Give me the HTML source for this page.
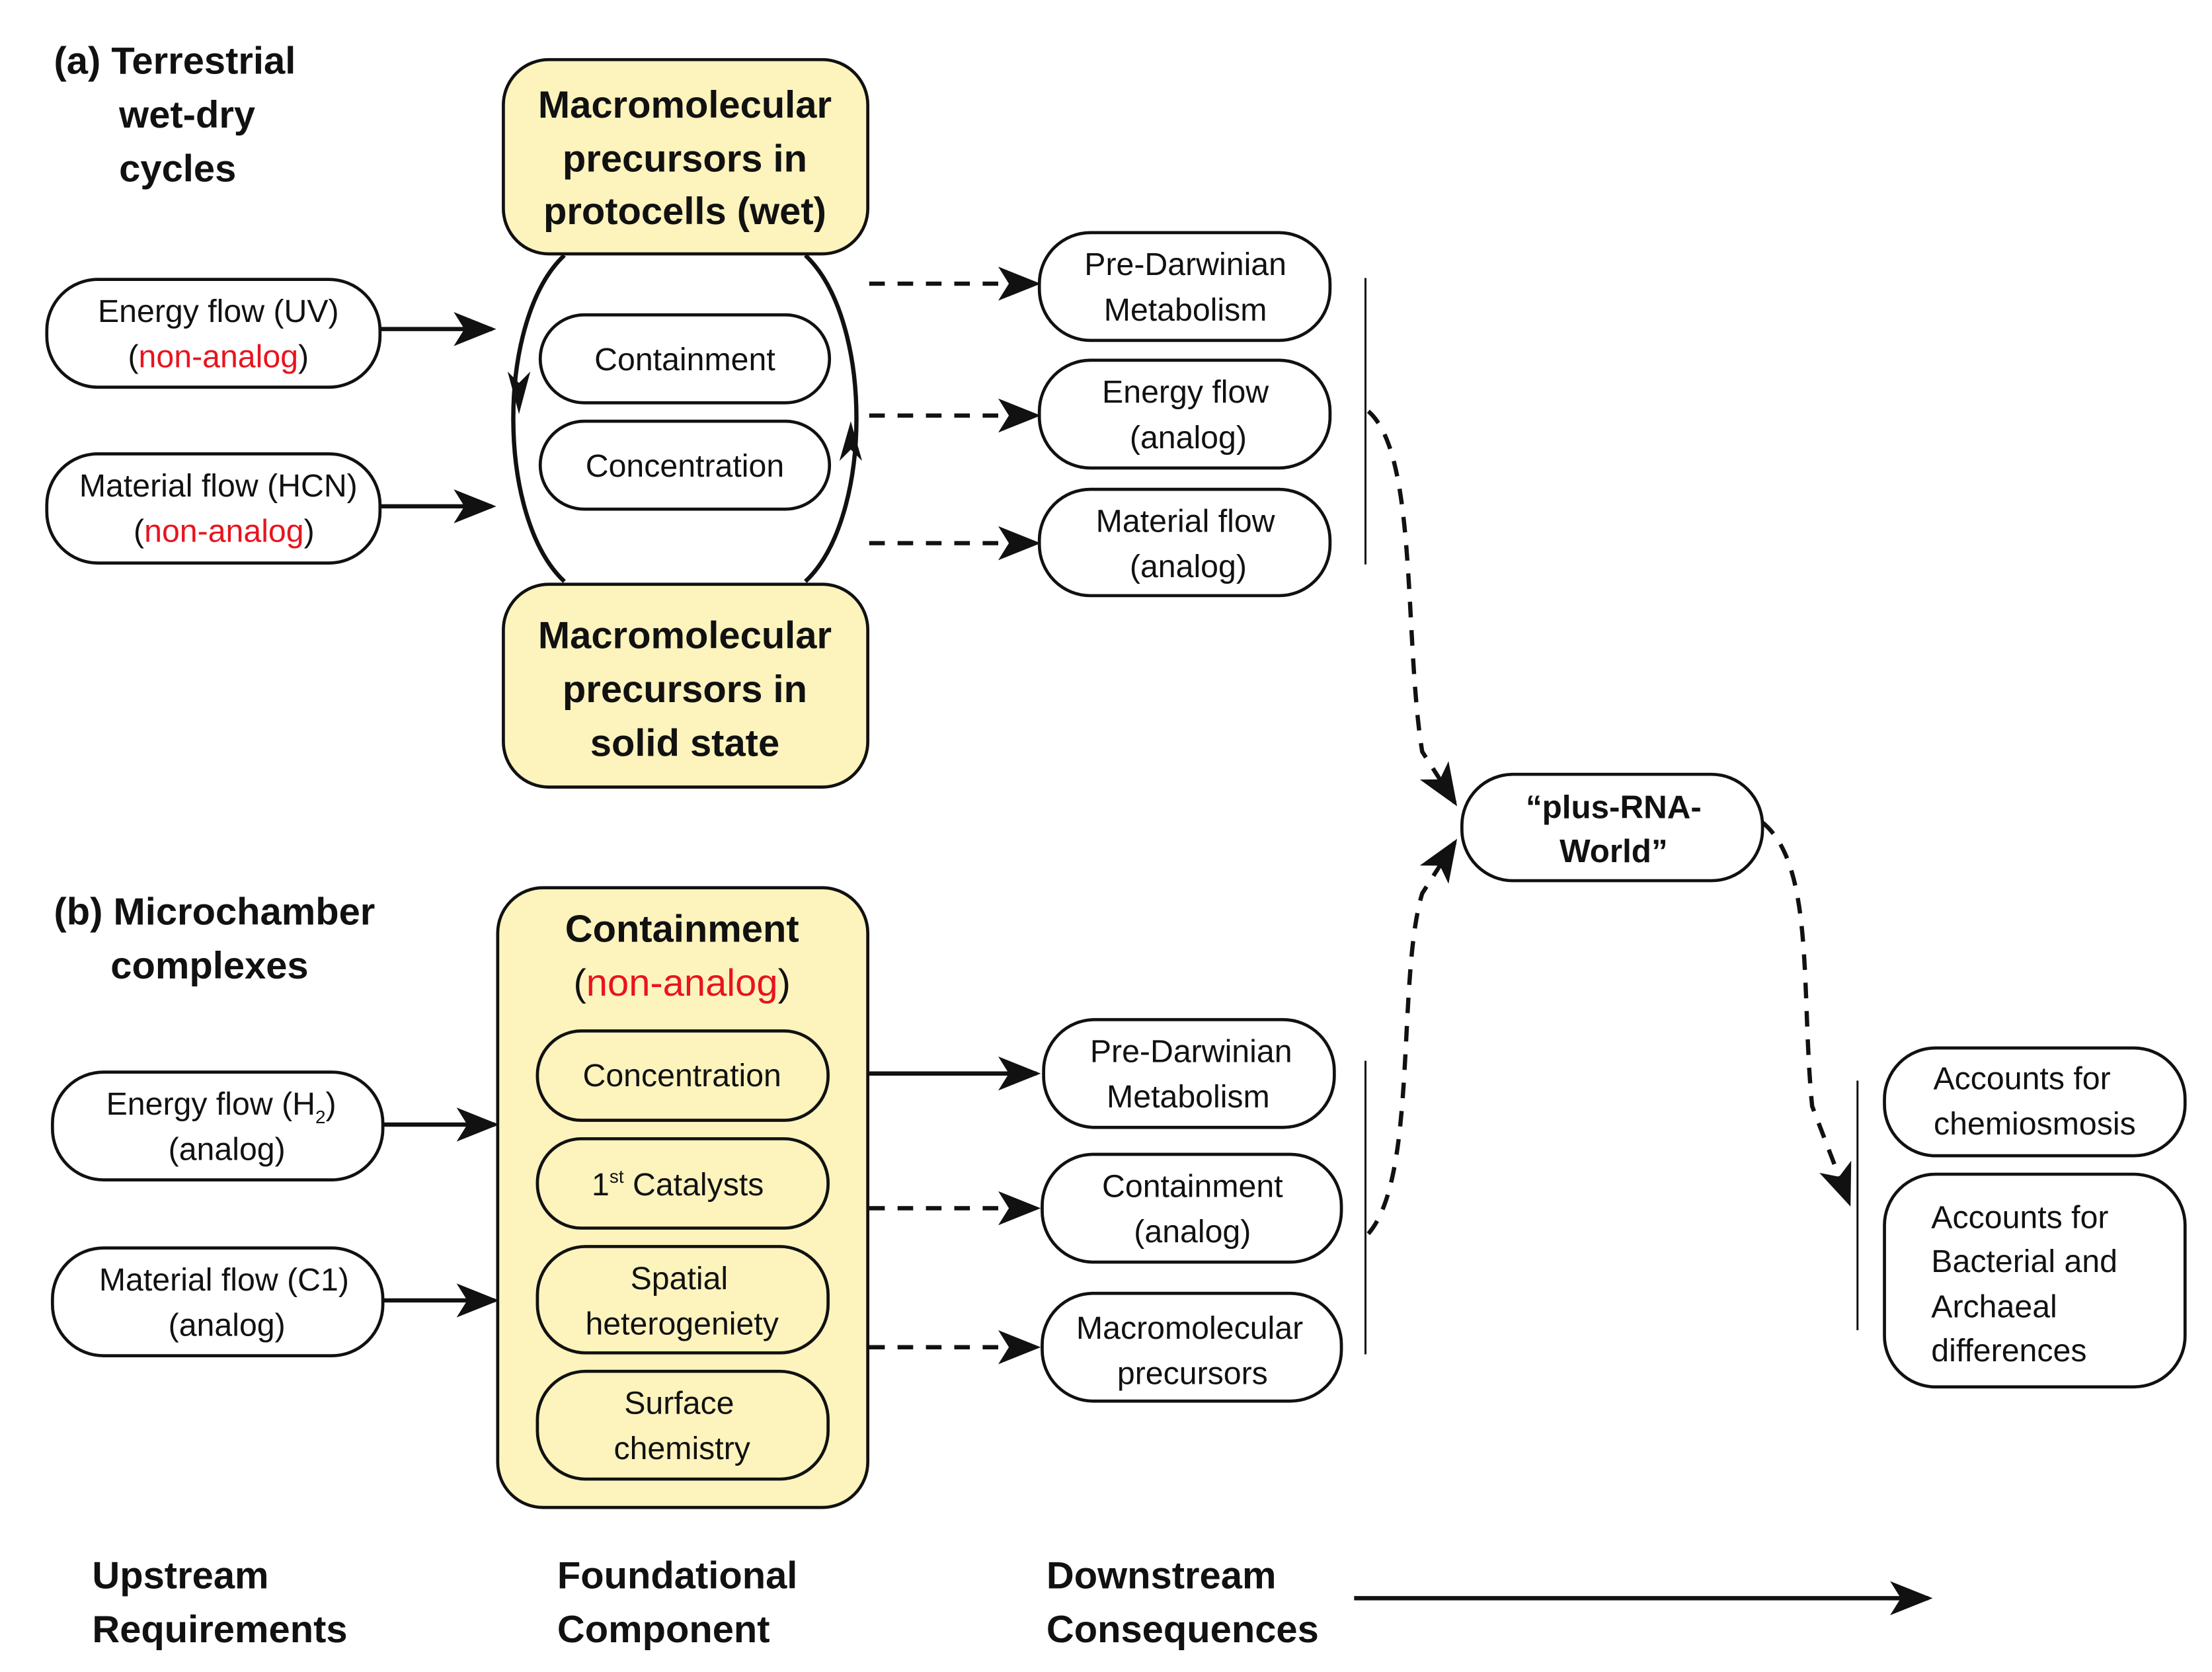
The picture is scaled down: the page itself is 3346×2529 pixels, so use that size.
<!DOCTYPE html>
<html><head><meta charset="utf-8"><style>
html,body{margin:0;padding:0;background:#fff;}
svg{display:block;}
text{font-family:"Liberation Sans",sans-serif;fill:#111;}
.r{font-size:22.5px;text-anchor:middle;}
.b{font-size:27px;font-weight:bold;}
.bc{font-size:27px;font-weight:bold;text-anchor:middle;}
.red{fill:#e8141e;}
.box{fill:#fff;stroke:#111;stroke-width:2.2;}
.yb{fill:#fcf3bd;stroke:#111;stroke-width:2.2;}
.ln{stroke:#111;stroke-width:3;fill:none;}
.vl{stroke:#111;stroke-width:1.4;fill:none;}
.dl{stroke:#111;stroke-width:3;fill:none;stroke-dasharray:11 9;}
</style></head><body>
<svg width="3346" height="2529" viewBox="0 0 1560 1179" xmlns="http://www.w3.org/2000/svg">
<defs>
<marker id="ab" viewBox="0 0 20 16" refX="18" refY="8" markerWidth="32" markerHeight="24" markerUnits="userSpaceOnUse" orient="auto">
<path d="M0 0 L20 8 L0 16 L5 8 Z" fill="#111"/></marker>
</defs>

<text class="b" x="38" y="52">(a) Terrestrial</text>
<text class="b" x="84" y="90">wet-dry</text>
<text class="b" x="84" y="128">cycles</text>

<rect class="yb" x="355" y="42" width="257" height="137" rx="32"/>
<text class="bc" x="483" y="83">Macromolecular</text>
<text class="bc" x="483" y="121">precursors in</text>
<text class="bc" x="483" y="158">protocells (wet)</text>

<path class="ln" stroke-width="2.4" d="M398 180 C350 225,350 365,398 410"/>
<path class="ln" stroke-width="2.4" d="M568 180 C616 225,616 365,568 410"/>
<path d="M358 262 L366 292 L374 262 L366 270 Z" fill="#111"/>
<path d="M592 325 L600 297 L608 325 L600 317 Z" fill="#111"/>

<rect class="box" x="381" y="222" width="204" height="62" rx="31"/>
<text class="r" x="483" y="261">Containment</text>
<rect class="box" x="381" y="297" width="204" height="62" rx="31"/>
<text class="r" x="483" y="336">Concentration</text>

<rect class="yb" x="355" y="412" width="257" height="143" rx="32"/>
<text class="bc" x="483" y="457">Macromolecular</text>
<text class="bc" x="483" y="495">precursors in</text>
<text class="bc" x="483" y="533">solid state</text>

<rect class="box" x="33" y="197" width="235" height="76" rx="36"/>
<text class="r" x="154" y="227">Energy flow (UV)</text>
<text class="r" x="154" y="259">(<tspan class="red">non-analog</tspan>)</text>
<line class="ln" x1="268" y1="232" x2="347" y2="232" marker-end="url(#ab)"/>
<rect class="box" x="33" y="320" width="235" height="77" rx="36"/>
<text class="r" x="154" y="350">Material flow (HCN)</text>
<text class="r" x="158" y="382">(<tspan class="red">non-analog</tspan>)</text>
<line class="ln" x1="268" y1="357" x2="347" y2="357" marker-end="url(#ab)"/>

<line class="dl" x1="613" y1="200" x2="731" y2="200" marker-end="url(#ab)"/>
<line class="dl" x1="613" y1="293" x2="731" y2="293" marker-end="url(#ab)"/>
<line class="dl" x1="613" y1="383" x2="731" y2="383" marker-end="url(#ab)"/>

<rect class="box" x="733" y="164" width="205" height="76" rx="36"/>
<text class="r" x="836" y="194">Pre-Darwinian</text>
<text class="r" x="836" y="226">Metabolism</text>
<rect class="box" x="733" y="254" width="205" height="76" rx="36"/>
<text class="r" x="836" y="284">Energy flow</text>
<text class="r" x="838" y="316">(analog)</text>
<rect class="box" x="733" y="345" width="205" height="75" rx="36"/>
<text class="r" x="836" y="375">Material flow</text>
<text class="r" x="838" y="407">(analog)</text>
<line class="vl" x1="963" y1="196" x2="963" y2="398"/>

<path class="dl" d="M965 290 C1000 320,990 450,1003 530 L1026 566" marker-end="url(#ab)"/>
<path class="dl" d="M965 870 C1000 830,985 690,1003 630 L1026 594" marker-end="url(#ab)"/>
<path class="dl" d="M1243 580 C1280 610,1270 700,1278 780 L1304 848" marker-end="url(#ab)"/>

<rect class="box" x="1031" y="546" width="212" height="75" rx="36"/>
<text class="bc" style="font-size:23px" x="1138" y="577">“plus-RNA-</text>
<text class="bc" style="font-size:23px" x="1138" y="608">World”</text>

<text class="b" x="38" y="652">(b) Microchamber</text>
<text class="b" x="78" y="690">complexes</text>

<rect class="yb" x="351" y="626" width="261" height="437" rx="32"/>
<text class="bc" x="481" y="664">Containment</text>
<text class="r" style="font-size:27px" x="481" y="702">(<tspan class="red">non-analog</tspan>)</text>
<rect class="yb" x="379" y="727" width="205" height="63" rx="31"/>
<text class="r" x="481" y="766">Concentration</text>
<rect class="yb" x="379" y="803" width="205" height="63" rx="31"/>
<text class="r" x="478" y="843">1<tspan style="font-size:13px" dy="-9">st</tspan><tspan dy="9"> Catalysts</tspan></text>
<rect class="yb" x="379" y="879" width="205" height="75" rx="34"/>
<text class="r" x="479" y="909">Spatial</text>
<text class="r" x="481" y="941">heterogeniety</text>
<rect class="yb" x="379" y="967" width="205" height="76" rx="34"/>
<text class="r" x="479" y="997">Surface</text>
<text class="r" x="481" y="1029">chemistry</text>

<rect class="box" x="37" y="756" width="233" height="76" rx="36"/>
<text class="r" x="156" y="786">Energy flow (H<tspan style="font-size:13px" dy="6">2</tspan><tspan dy="-6">)</tspan></text>
<text class="r" x="160" y="818">(analog)</text>
<line class="ln" x1="270" y1="793" x2="349" y2="793" marker-end="url(#ab)"/>
<rect class="box" x="37" y="880" width="233" height="76" rx="36"/>
<text class="r" x="158" y="910">Material flow (C1)</text>
<text class="r" x="160" y="942">(analog)</text>
<line class="ln" x1="270" y1="917" x2="349" y2="917" marker-end="url(#ab)"/>

<line class="ln" x1="613" y1="757" x2="731" y2="757" marker-end="url(#ab)"/>
<line class="dl" x1="613" y1="852" x2="731" y2="852" marker-end="url(#ab)"/>
<line class="dl" x1="613" y1="950" x2="731" y2="950" marker-end="url(#ab)"/>

<rect class="box" x="736" y="719" width="205" height="76" rx="36"/>
<text class="r" x="840" y="749">Pre-Darwinian</text>
<text class="r" x="838" y="781">Metabolism</text>
<rect class="box" x="735" y="814" width="211" height="76" rx="36"/>
<text class="r" x="841" y="844">Containment</text>
<text class="r" x="841" y="876">(analog)</text>
<rect class="box" x="735" y="912" width="211" height="76" rx="36"/>
<text class="r" x="839" y="944">Macromolecular</text>
<text class="r" x="841" y="976">precursors</text>
<line class="vl" x1="963" y1="748" x2="963" y2="955"/>

<line class="vl" x1="1310" y1="762" x2="1310" y2="938"/>
<rect class="box" x="1329" y="739" width="212" height="76" rx="36"/>
<text class="r" x="1426" y="768">Accounts for</text>
<text class="r" x="1435" y="800">chemiosmosis</text>
<rect class="box" x="1329" y="828" width="212" height="150" rx="36"/>
<text class="r" style="text-anchor:start" x="1362" y="866">Accounts for</text>
<text class="r" style="text-anchor:start" x="1362" y="897">Bacterial and</text>
<text class="r" style="text-anchor:start" x="1362" y="929">Archaeal</text>
<text class="r" style="text-anchor:start" x="1362" y="960">differences</text>

<text class="b" x="65" y="1120">Upstream</text>
<text class="b" x="65" y="1158">Requirements</text>
<text class="b" x="393" y="1120">Foundational</text>
<text class="b" x="393" y="1158">Component</text>
<text class="b" x="738" y="1120">Downstream</text>
<text class="b" x="738" y="1158">Consequences</text>
<line class="ln" x1="955" y1="1127" x2="1360" y2="1127" marker-end="url(#ab)"/>
</svg>
</body></html>
